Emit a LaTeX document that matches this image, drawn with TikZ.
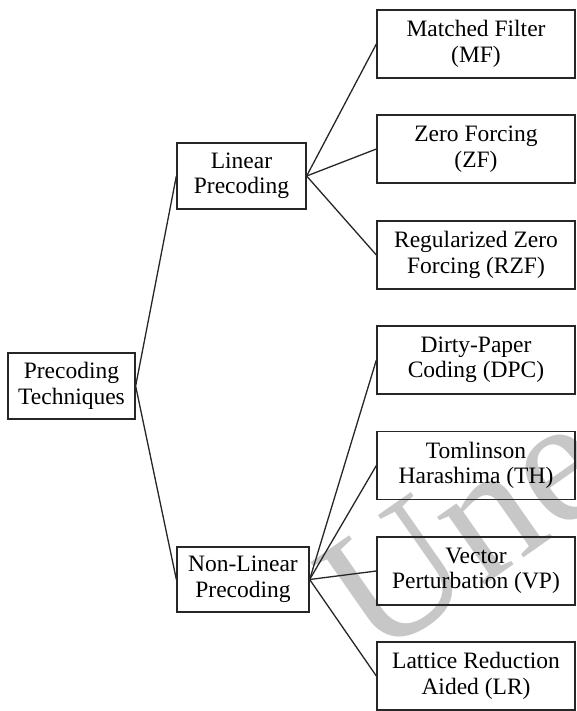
\documentclass[tikz,border=0pt]{standalone}
\usepackage{fontspec}
\setmainfont{Liberation Serif}
\begin{document}
\begin{tikzpicture}[x=1pt,y=-1pt,
  box/.style={draw=black!85, line width=1.3pt, inner sep=0pt, align=center,
    font=\fontsize{23.5}{25.5}\selectfont},
  leaf/.style={box, minimum width=198pt, minimum height=68pt},
  link/.style={draw=black!85, line width=1.3pt}]
\useasboundingbox (0,0) rectangle (577,711);

% faint background lettering
\begin{scope}
  \clip (0,0) rectangle (577,711);
  \node[rotate=35, anchor=base west, inner sep=0pt, text=black!22,
    font=\fontsize{180}{180}\selectfont] (wm) at (375,662) {Une};
\end{scope}

% root
\node[box, minimum width=127pt, minimum height=66pt] (root) at (71.5,386) {Precoding\\Techniques};

% second level
\node[box, minimum width=129pt, minimum height=66pt] (lin) at (241.5,176) {Linear\\Precoding};
\node[box, minimum width=132pt, minimum height=65pt] (nonlin) at (243,579.5) {Non-Linear\\Precoding};

% leaves
\node[leaf] (mf)  at (476,44)    {Matched Filter\\(MF)};
\node[leaf] (zf)  at (476,149)   {Zero Forcing\\(ZF)};
\node[leaf] (rzf) at (476,255)   {Regularized Zero\\Forcing (RZF)};
\node[leaf] (dpc) at (476,360)   {Dirty-Paper\\Coding (DPC)};
\node[leaf] (th)  at (476,465.5) {Tomlinson\\Harashima (TH)};
\node[leaf] (vp)  at (476,571)   {Vector\\Perturbation (VP)};
\node[leaf] (lr)  at (476,676)   {Lattice Reduction\\Aided (LR)};

% connectors
\draw[link] (root.east) -- (lin.west);
\draw[link] (root.east) -- (nonlin.west);
\foreach \t in {mf,zf,rzf}
  \draw[link] (lin.east) -- (\t.west);
\foreach \t in {dpc,th,vp,lr}
  \draw[link] (nonlin.east) -- (\t.west);
\end{tikzpicture}
\end{document}
